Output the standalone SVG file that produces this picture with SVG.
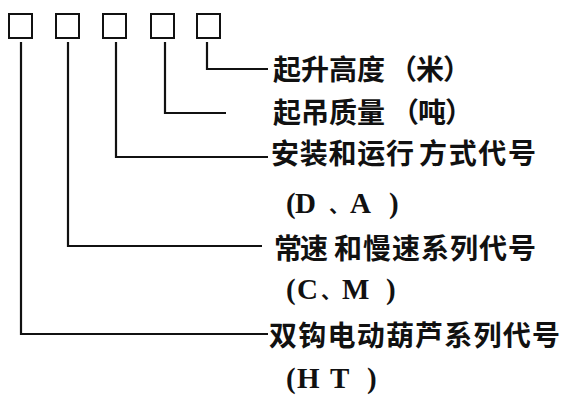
<svg xmlns="http://www.w3.org/2000/svg" width="586" height="400" viewBox="0 0 586 400">
<style>
.box{fill:none;stroke:#111;stroke-width:2}
.ln{fill:none;stroke:#111;stroke-width:2.2}
.cn{font-family:"Noto Sans CJK SC","Noto Sans CJK JP",sans-serif;font-size:28px;font-weight:bold;fill:#111}
.lt{font-family:"Liberation Serif","Noto Sans CJK SC",serif;font-size:29px;font-weight:bold;fill:#111}
.dun{font-family:"Noto Sans CJK SC",sans-serif;font-size:20px;font-weight:bold}
</style>
<rect width="586" height="400" fill="#fff"/>
<g id="box1"><rect class="box" x="9" y="14" width="23" height="24"/></g>
<g id="box2"><rect class="box" x="56" y="14" width="23" height="24"/></g>
<g id="box3"><rect class="box" x="103" y="14" width="23" height="24"/></g>
<g id="box4"><rect class="box" x="151" y="14" width="23" height="24"/></g>
<g id="box5"><rect class="box" x="197" y="14" width="23" height="24"/></g>
<g id="connectors">
<polyline class="ln" points="207,42 207,69 268,69"/>
<polyline class="ln" points="165,42 165,113 226,113"/>
<polyline class="ln" points="116,42 116,157 268,157"/>
<polyline class="ln" points="68,42 68,246 262,246"/>
<polyline class="ln" points="21,42 21,334 268,334"/>
</g>
<g id="label1"><text class="cn" y="80"><tspan x="273" textLength="112" lengthAdjust="spacing">起升高度</tspan><tspan x="389" textLength="82" lengthAdjust="spacing">（米）</tspan></text></g>
<g id="label2"><text class="cn" y="123"><tspan x="273" textLength="112" lengthAdjust="spacing">起吊质量</tspan><tspan x="391" textLength="82" lengthAdjust="spacing">（吨）</tspan></text></g>
<g id="label3"><text class="cn" y="164"><tspan x="271" textLength="143" lengthAdjust="spacing">安装和运行</tspan><tspan x="419" textLength="117" lengthAdjust="spacing">方式代号</tspan></text>
<text class="lt" y="213"><tspan x="286">(</tspan><tspan x="295">D</tspan><tspan class="dun" x="329">、</tspan><tspan x="350">A</tspan><tspan x="389">)</tspan></text></g>
<g id="label4"><text class="cn" y="259"><tspan x="274" textLength="54" lengthAdjust="spacing">常速</tspan><tspan x="334" textLength="202" lengthAdjust="spacing">和慢速系列代号</tspan></text>
<text class="lt" y="299"><tspan x="286">(</tspan><tspan x="297">C</tspan><tspan class="dun" x="321">、</tspan><tspan x="342">M</tspan><tspan x="386">)</tspan></text></g>
<g id="label5"><text class="cn" y="346"><tspan x="269" textLength="291" lengthAdjust="spacing">双钩电动葫芦系列代号</tspan></text>
<text class="lt" y="388"><tspan x="286">(</tspan><tspan x="297">H</tspan><tspan x="330">T</tspan><tspan x="367">)</tspan></text></g>
</svg>
